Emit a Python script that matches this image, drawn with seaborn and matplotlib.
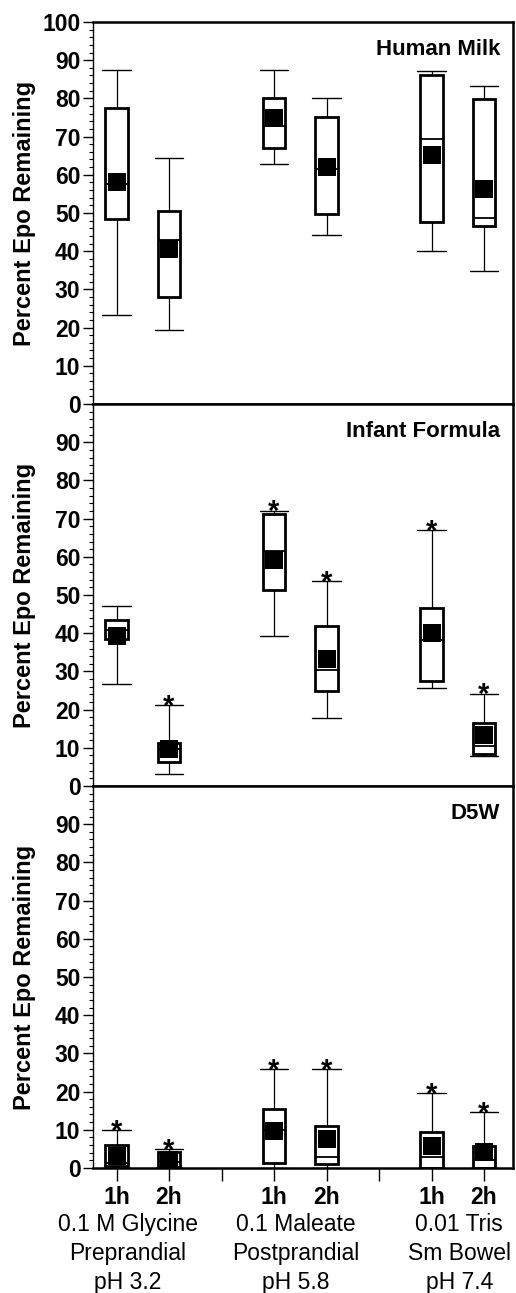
import matplotlib
matplotlib.use("Agg")
import matplotlib.pyplot as plt
from matplotlib.ticker import MultipleLocator
import matplotlib.transforms as mtransforms
import numpy as np
import pandas as pd
import seaborn as sns

# box positions: 1h / 2h for each buffer, gaps at 3 and 6
positions = [1, 2, 4, 5, 7, 8]
time_labels = ["1h", "2h", "1h", "2h", "1h", "2h"]
group_lines = [
    ["0.1 M Glycine", "Preprandial", "pH 3.2"],
    ["0.1 Maleate", "Postprandial", "pH 5.8"],
    ["0.01 Tris", "Sm Bowel", "pH 7.4"],
]
panel_titles = ["Human Milk", "Infant Formula", "D5W"]

# five-number summaries (min, q1, median, q3, max) + mean
milk_min = [23.2, 19.3, 62.8, 44.2, 40.0, 34.7]
milk_q1 = [48.5, 27.9, 67.0, 49.7, 47.6, 46.5]
milk_med = [57.5, 42.9, 72.8, 61.6, 69.3, 48.6]
milk_q3 = [77.6, 50.5, 80.1, 75.2, 86.2, 79.8]
milk_max = [87.5, 64.3, 87.5, 80.2, 87.2, 83.3]
milk_mean = [58.1, 40.6, 74.9, 62.1, 65.1, 56.4]
milk_star = [False, False, False, False, False, False]

formula_min = [26.8, 3.1, 39.4, 17.7, 25.6, 7.8]
formula_q1 = [38.4, 6.4, 51.2, 24.9, 27.6, 8.5]
formula_med = [40.8, 9.6, 61.5, 30.3, 38.2, 10.5]
formula_q3 = [43.4, 11.2, 71.2, 41.8, 46.7, 16.6]
formula_max = [47.1, 21.2, 72.1, 53.6, 66.9, 24.2]
formula_mean = [39.4, 9.8, 59.3, 33.3, 40.1, 13.3]
formula_star = [False, True, True, True, True, True]

d5w_min = [0.0, 0.0, 0.0, 0.0, 0.0, 0.0]
d5w_q1 = [0.4, 0.2, 1.3, 1.0, 0.0, 0.0]
d5w_med = [1.3, 1.5, 10.0, 3.0, 3.0, 2.2]
d5w_q3 = [5.9, 4.1, 15.4, 10.9, 9.4, 5.7]
d5w_max = [10.0, 5.0, 25.9, 25.9, 19.6, 14.6]
d5w_mean = [3.2, 2.2, 9.8, 7.6, 5.7, 4.1]
d5w_star = [True, True, True, True, True, True]

panels = [
    (milk_min, milk_q1, milk_med, milk_q3, milk_max, milk_mean, milk_star),
    (formula_min, formula_q1, formula_med, formula_q3, formula_max, formula_mean, formula_star),
    (d5w_min, d5w_q1, d5w_med, d5w_q3, d5w_max, d5w_mean, d5w_star),
]

sns.set_style("ticks")
plt.rcParams["font.family"] = ["Liberation Sans", "DejaVu Sans"]
plt.rcParams["font.weight"] = "bold"
for key in ["text.color", "axes.labelcolor", "xtick.color", "ytick.color", "axes.edgecolor"]:
    plt.rcParams[key] = "black"

fig = plt.figure(figsize=(5.16, 12.93), dpi=100)
left, width, height = 0.180, 0.814, 0.2954
bottoms = [0.6876, 0.3921, 0.0967]

for i, (mins, q1, med, q3, maxs, means, stars) in enumerate(panels):
    ax = fig.add_axes([left, bottoms[i], width, height])
    # five values per box -> quartiles land exactly on q1 / median / q3
    rows = []
    for p, a, b, c, d, e in zip(positions, mins, q1, med, q3, maxs):
        for v in (a, b, c, d, e):
            rows.append({"pos": p, "value": v})
    df = pd.DataFrame(rows)
    sns.boxplot(
        data=df, x="pos", y="value", native_scale=True, whis=(0, 100),
        width=0.42, color="white", linecolor="black", linewidth=2.0,
        showfliers=False, ax=ax, capwidths=0.55,
        whiskerprops={"linewidth": 0.9}, capprops={"linewidth": 1.0},
        medianprops={"linewidth": 1.3},
    )
    sns.scatterplot(x=positions, y=means, marker="s", s=150, color="black",
                    linewidth=0, ax=ax, zorder=5, legend=False)

    for p, top, st in zip(positions, maxs, stars):
        if st:
            ax.annotate("*", (p, top), xytext=(0, -7), textcoords="offset points",
                        ha="center", va="baseline", fontsize=21, fontweight="bold")

    ax.set_xlim(0.55, 8.55)
    ax.set_ylim(0, 100)
    if i == 0:
        ax.set_yticks(range(0, 101, 10))
    else:
        ax.set_yticks(range(0, 100, 10))
    ax.yaxis.set_minor_locator(MultipleLocator(2))
    ax.tick_params(axis="y", which="major", length=7, width=1.0, labelsize=16.5, pad=2)
    ax.tick_params(axis="y", which="minor", length=3, width=0.8)
    ax.set_ylabel("Percent Epo Remaining", fontsize=17, fontweight="bold")
    ax.yaxis.set_label_coords(-0.135, 0.5)
    ax.set_xlabel("")

    ax.text(0.97, 0.928, panel_titles[i], transform=ax.transAxes, ha="right",
            va="center", fontsize=16, fontweight="bold")

    for side in ["top", "right", "bottom"]:
        ax.spines[side].set_linewidth(1.8)
    ax.spines["left"].set_linewidth(1.0)

    if i < 2:
        ax.set_xticks([])
    else:
        ax.set_xticks([1, 2, 3, 4, 5, 6, 7, 8])
        ax.set_xticklabels(["1h", "2h", "", "1h", "2h", "", "1h", "2h"])
        ax.tick_params(axis="x", length=9, width=1.0, labelsize=16.5, pad=4)
        trans = mtransforms.blended_transform_factory(ax.transData, ax.transAxes)
        for gx, lines in zip([1.21, 4.42, 7.53], group_lines):
            for k, line in enumerate(lines):
                ax.text(gx, -0.149 - 0.075 * k, line, transform=trans, ha="center",
                        va="center", fontsize=16.5, fontweight="normal")

fig.savefig("out.png", dpi=100)
